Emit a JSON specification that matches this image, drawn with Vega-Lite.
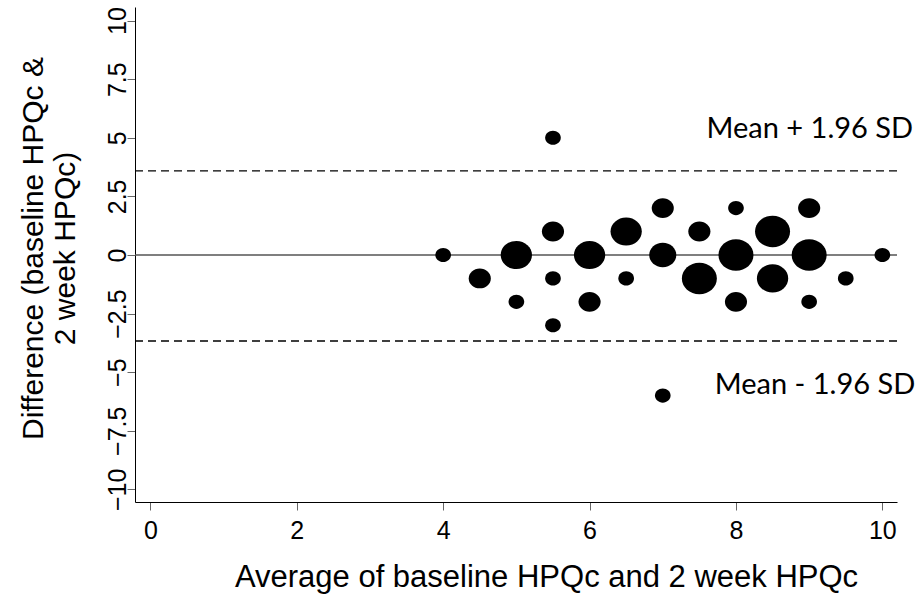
{
  "$schema": "https://vega.github.io/schema/vega-lite/v6.json",
  "width": 762,
  "height": 495,
  "autosize": {"type": "none"},
  "padding": {"left": 135, "top": 7, "right": 24, "bottom": 92},
  "background": "white",
  "config": {
    "view": {"stroke": null},
    "axis": {
      "labelFont": "Liberation Sans",
      "titleFont": "Liberation Sans",
      "labelColor": "black",
      "titleColor": "black",
      "titleFontWeight": "normal",
      "grid": false,
      "domainColor": "black",
      "domainWidth": 1,
      "tickColor": "#666666",
      "tickWidth": 1,
      "tickSize": 8
    }
  },
  "datasets": {
    "points": [
      {"avg": 4, "diff": 0, "n": 1},
      {"avg": 4.5, "diff": -1, "n": 2},
      {"avg": 5, "diff": 0, "n": 4},
      {"avg": 5, "diff": -2, "n": 1},
      {"avg": 5.5, "diff": 5, "n": 1},
      {"avg": 5.5, "diff": 1, "n": 2},
      {"avg": 5.5, "diff": -1, "n": 1},
      {"avg": 5.5, "diff": -3, "n": 1},
      {"avg": 6, "diff": 0, "n": 4},
      {"avg": 6, "diff": -2, "n": 2},
      {"avg": 6.5, "diff": 1, "n": 4},
      {"avg": 6.5, "diff": -1, "n": 1},
      {"avg": 7, "diff": 2, "n": 2},
      {"avg": 7, "diff": 0, "n": 3},
      {"avg": 7, "diff": -6, "n": 1},
      {"avg": 7.5, "diff": 1, "n": 2},
      {"avg": 7.5, "diff": -1, "n": 5},
      {"avg": 8, "diff": 2, "n": 1},
      {"avg": 8, "diff": 0, "n": 5},
      {"avg": 8, "diff": -2, "n": 2},
      {"avg": 8.5, "diff": 1, "n": 5},
      {"avg": 8.5, "diff": -1, "n": 4},
      {"avg": 9, "diff": 2, "n": 2},
      {"avg": 9, "diff": 0, "n": 5},
      {"avg": 9, "diff": -2, "n": 1},
      {"avg": 9.5, "diff": -1, "n": 1},
      {"avg": 10, "diff": 0, "n": 1}
    ],
    "lines": [
      {"v": 0, "kind": "mean"},
      {"v": 3.59, "kind": "limit"},
      {"v": -3.67, "kind": "limit"}
    ],
    "labels": [
      {"x": 10.42, "y": 5.0, "label": "Mean + 1.96 SD"},
      {"x": 10.45, "y": -5.95, "label": "Mean - 1.96 SD"}
    ]
  },
  "layer": [
    {
      "data": {"name": "lines"},
      "transform": [{"filter": "datum.kind === 'mean'"}],
      "mark": {"type": "rule", "color": "#555555", "strokeWidth": 1.6},
      "encoding": {
        "y": {"field": "v", "type": "quantitative", "scale": {"domain": [-10.54, 10.58], "nice": false, "zero": false}}
      }
    },
    {
      "data": {"name": "lines"},
      "transform": [{"filter": "datum.kind === 'limit'"}],
      "mark": {"type": "rule", "color": "black", "strokeWidth": 1.3, "strokeDash": [8, 5]},
      "encoding": {
        "y": {"field": "v", "type": "quantitative"}
      }
    },
    {
      "data": {"name": "points"},
      "mark": {
        "type": "point",
        "filled": true,
        "opacity": 1,
        "color": "black",
        "strokeWidth": 0,
        "shape": "M -1 0 A 1 0.9 0 1 1 1 0 A 1 0.9 0 1 1 -1 0 Z"
      },
      "encoding": {
        "x": {
          "field": "avg",
          "type": "quantitative",
          "scale": {"domain": [-0.21, 10.2], "nice": false, "zero": false},
          "axis": {
            "values": [0, 2, 4, 6, 8, 10],
            "format": ".1~f",
            "title": "Average of baseline HPQc and 2 week HPQc",
            "labelFontSize": 25,
            "labelPadding": 8,
            "titleFontSize": 31,
            "titleX": 411,
            "titleY": 84,
            "titleAnchor": null,
            "titleBaseline": "alphabetic",
            "titleAlign": "center"
          }
        },
        "y": {
          "field": "diff",
          "type": "quantitative",
          "scale": {"domain": [-10.54, 10.58], "nice": false, "zero": false},
          "axis": {
            "values": [-10, -7.5, -5, -2.5, 0, 2.5, 5, 7.5, 10],
            "format": ".1~f",
            "title": ["Difference (baseline HPQc &", "2 week HPQc)"],
            "labelFontSize": 25,
            "labelAngle": -90,
            "labelAlign": "center",
            "labelBaseline": "alphabetic",
            "labelPadding": 2,
            "titleFontSize": 30,
            "titleAngle": -90,
            "titleAlign": "center",
            "titleBaseline": "top",
            "titleX": -117,
            "titleY": 241,
            "titleLineHeight": 32
          }
        },
        "size": {
          "field": "n",
          "type": "quantitative",
          "scale": {"domain": [0, 5], "range": [0, 1225], "zero": true},
          "legend": null
        }
      }
    },
    {
      "data": {"name": "labels"},
      "mark": {"type": "text", "font": "Lato", "fontSize": 29, "align": "right", "baseline": "alphabetic", "color": "black"},
      "encoding": {
        "x": {"field": "x", "type": "quantitative"},
        "y": {"field": "y", "type": "quantitative"},
        "text": {"field": "label"}
      }
    }
  ]
}
